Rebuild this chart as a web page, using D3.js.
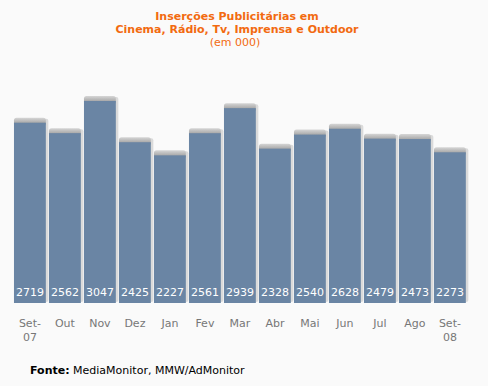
<!DOCTYPE html>
<html>
<head>
<meta charset="utf-8">
<script src="https://cdn.jsdelivr.net/npm/d3@7"></script>
<style>
  body { margin: 0; background: #fafafa; }
  svg { display: block; }
</style>
</head>
<body>
<div id="chart"></div>
<script>
// data
var months = ["Set-07", "Out", "Nov", "Dez", "Jan", "Fev", "Mar", "Abr", "Mai", "Jun", "Jul", "Ago", "Set-08"];
var values = [2719, 2562, 3047, 2425, 2227, 2561, 2939, 2328, 2540, 2628, 2479, 2473, 2273];
var titleLines = ["Inserções Publicitárias em", "Cinema, Rádio, Tv, Imprensa e Outdoor"];
var subTitle = "(em 000)";

var width = 488, height = 386;

var svg = d3.select("#chart")
  .append("svg")
    .attr("width", width)
    .attr("height", height);

var defs = svg.append("defs");
var grad = defs.append("linearGradient")
  .attr("id", "cap")
  .attr("x1", 0).attr("y1", 0).attr("x2", 0).attr("y2", 1);
grad.append("stop").attr("offset", "0%").attr("stop-color", "#d6d6d6");
grad.append("stop").attr("offset", "100%").attr("stop-color", "#8f8f8f");

var x = d3.scaleBand()
  .domain(months)
  .range([12.4, 467.4])
  .paddingInner(0.09)
  .paddingOuter(0.045);

var y = d3.scaleLinear()
  .domain([0, 3000])
  .range([303, 104.1]);

var bars = svg.append("g").selectAll("g")
  .data(values)
  .enter().append("g");

// light shadow on the right
bars.append("rect")
  .attr("x", function(d, i) { return x(months[i]) + 1.5; })
  .attr("y", function(d) { return y(d) - 4; })
  .attr("width", x.bandwidth() + 1)
  .attr("height", function(d) { return y(0) - y(d) + 3; })
  .attr("rx", 2)
  .attr("fill", "#dadada");

// grey cap
bars.append("rect")
  .attr("x", function(d, i) { return x(months[i]); })
  .attr("y", function(d) { return y(d) - 5; })
  .attr("width", x.bandwidth())
  .attr("height", 8)
  .attr("rx", 2.5)
  .attr("fill", "url(#cap)");

// the bar
bars.append("rect")
  .attr("x", function(d, i) { return x(months[i]); })
  .attr("y", function(d) { return y(d); })
  .attr("width", x.bandwidth())
  .attr("height", function(d) { return y(0) - y(d); })
  .attr("fill", "#6a85a4");

// values inside bars
bars.append("text")
  .attr("x", function(d, i) { return x(months[i]) + x.bandwidth() / 2; })
  .attr("y", 296)
  .attr("text-anchor", "middle")
  .style("font-family", "DejaVu Sans, Verdana, sans-serif")
  .style("font-size", "11px")
  .attr("fill", "#ffffff")
  .text(function(d) { return d; });

// month labels
var labels = svg.append("g").selectAll("text")
  .data(months)
  .enter().append("text")
    .attr("x", function(d) { return x(d) + x.bandwidth() / 2; })
    .attr("y", 327)
    .attr("text-anchor", "middle")
    .style("font-family", "DejaVu Sans, Verdana, sans-serif")
    .style("font-size", "11px")
    .attr("fill", "#777777");
labels.each(function(d) {
  var parts = d.indexOf("-") > 0 ? [d.split("-")[0] + "-", d.split("-")[1]] : [d];
  var t = d3.select(this);
  parts.forEach(function(p, k) {
    t.append("tspan")
      .attr("x", t.attr("x"))
      .attr("dy", k === 0 ? 0 : 14)
      .text(p);
  });
});

// title
svg.append("g").selectAll("text")
  .data(titleLines)
  .enter().append("text")
    .attr("x", 237)
    .attr("y", function(d, i) { return 20 + i * 13; })
    .attr("text-anchor", "middle")
    .style("font-family", "DejaVu Sans, Verdana, sans-serif")
    .style("font-size", "11px")
    .style("font-weight", "bold")
    .attr("fill", "#f26a10")
    .text(function(d) { return d; });

svg.append("text")
  .attr("x", 235)
  .attr("y", 46)
  .attr("text-anchor", "middle")
  .style("font-family", "DejaVu Sans, Verdana, sans-serif")
  .style("font-size", "11px")
  .attr("fill", "#f26a10")
  .text(subTitle);

// source
var src = svg.append("text")
  .attr("x", 30)
  .attr("y", 374)
  .style("font-family", "DejaVu Sans, Verdana, sans-serif")
  .style("font-size", "11px")
  .attr("fill", "#000000");
src.append("tspan").style("font-weight", "bold").text("Fonte:");
src.append("tspan").text(" MediaMonitor, MMW/AdMonitor");
</script>
</body>
</html>
